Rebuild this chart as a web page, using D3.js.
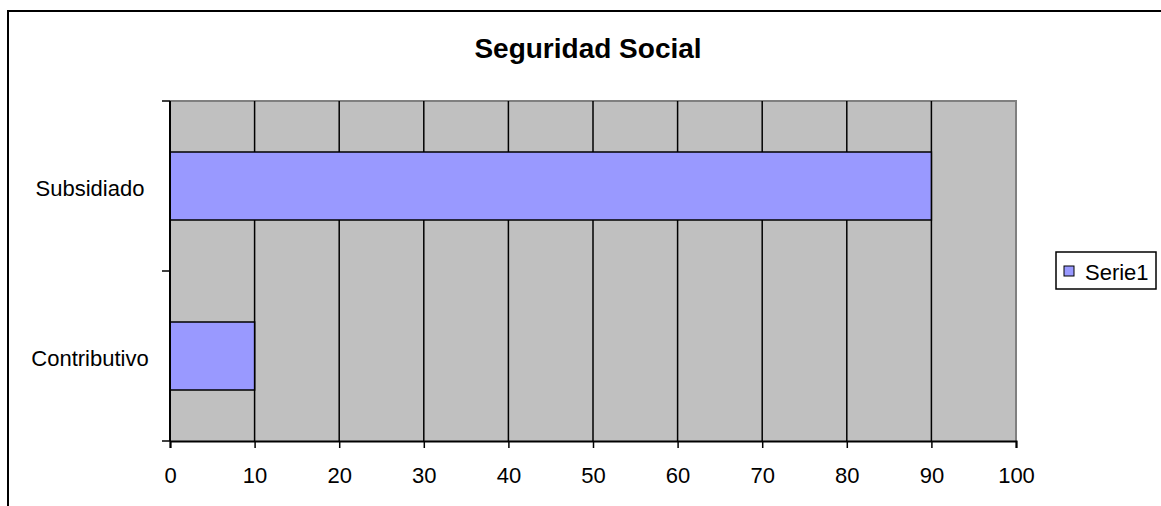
<!DOCTYPE html>
<html>
<head>
<meta charset="utf-8">
<script src="https://cdn.jsdelivr.net/npm/d3@7"></script>
<style>
  html, body { margin: 0; padding: 0; background: #ffffff; }
  svg { display: block; font-family: "Liberation Sans", Arial, sans-serif; }
</style>
</head>
<body>
<svg id="chart" width="1161" height="506"></svg>
<script>
// Chart data
const title = "Seguridad Social";
const categories = ["Subsidiado", "Contributivo"];
const values = [90, 10];
const seriesName = "Serie1";
const xTicks = [0, 10, 20, 30, 40, 50, 60, 70, 80, 90, 100];

const svg = d3.select("#chart");
const W = 1161, H = 506;

// Plot area
const plot = { left: 170, top: 101, right: 1016, bottom: 441 };

const x = d3.scaleLinear().domain([0, 100]).range([plot.left, plot.right]);
const y = d3.scaleBand()
  .domain(categories)
  .range([plot.top, plot.bottom])
  .paddingInner(0.6)
  .paddingOuter(0.3);

// Outer chart frame
svg.append("rect")
  .attr("x", 8).attr("y", 11)
  .attr("width", W).attr("height", H)
  .attr("fill", "#ffffff")
  .attr("stroke", "#000000")
  .attr("stroke-width", 2);

// Title
svg.append("text")
  .attr("x", 588).attr("y", 58)
  .attr("text-anchor", "middle")
  .attr("font-size", 28)
  .attr("font-weight", "bold")
  .attr("fill", "#000")
  .text(title);

// Plot background
svg.append("rect")
  .attr("x", plot.left).attr("y", plot.top)
  .attr("width", plot.right - plot.left)
  .attr("height", plot.bottom - plot.top)
  .attr("fill", "#c0c0c0");

// Top and right border of the plot area
svg.append("path")
  .attr("d", `M${plot.left},${plot.top}H${plot.right}V${plot.bottom}`)
  .attr("fill", "none")
  .attr("stroke", "#808080")
  .attr("stroke-width", 2);

// Vertical gridlines
svg.append("g")
  .selectAll("line")
  .data(xTicks.filter(t => t > 0 && t < 100))
  .join("line")
  .attr("x1", d => x(d)).attr("x2", d => x(d))
  .attr("y1", plot.top).attr("y2", plot.bottom)
  .attr("stroke", "#000")
  .attr("stroke-width", 1.5);

// Bars
svg.append("g")
  .selectAll("rect")
  .data(categories.map((c, i) => ({ c, v: values[i] })))
  .join("rect")
  .attr("x", x(0))
  .attr("y", d => y(d.c))
  .attr("width", d => x(d.v) - x(0))
  .attr("height", y.bandwidth())
  .attr("fill", "#9999ff")
  .attr("stroke", "#000")
  .attr("stroke-width", 1.5);

// X axis
const xAxis = d3.axisBottom(x)
  .tickValues(xTicks)
  .tickSize(7)
  .tickPadding(19)
  .tickFormat(d3.format("d"));
const gx = svg.append("g")
  .attr("transform", `translate(0,${plot.bottom})`)
  .call(xAxis);
gx.select(".domain").attr("stroke", "#000").attr("stroke-width", 2);
gx.selectAll(".tick line").attr("stroke", "#000").attr("stroke-width", 1.5);
gx.selectAll(".tick text")
  .attr("font-size", 22)
  .attr("font-family", "'Liberation Sans', Arial, sans-serif")
  .attr("fill", "#000");

// Y axis line and category boundary ticks
svg.append("line")
  .attr("x1", plot.left).attr("x2", plot.left)
  .attr("y1", plot.top).attr("y2", plot.bottom)
  .attr("stroke", "#000").attr("stroke-width", 2);

const boundaries = [plot.top].concat(categories.map(c => y(c) + y.bandwidth() + y.step() * y.paddingInner() / 2));
svg.append("g")
  .selectAll("line")
  .data(boundaries)
  .join("line")
  .attr("x1", plot.left - 8).attr("x2", plot.left)
  .attr("y1", d => d).attr("y2", d => d)
  .attr("stroke", "#000").attr("stroke-width", 1.5);

// Category labels
svg.append("g")
  .selectAll("text")
  .data(categories)
  .join("text")
  .attr("x", 90)
  .attr("y", d => y(d) + y.bandwidth() / 2 + 2)
  .attr("dy", "0.35em")
  .attr("text-anchor", "middle")
  .attr("font-size", 22)
  .attr("fill", "#000")
  .text(d => d);

// Legend
const legend = svg.append("g");
legend.append("rect")
  .attr("x", 1056).attr("y", 252)
  .attr("width", 100).attr("height", 37)
  .attr("fill", "#fff")
  .attr("stroke", "#000")
  .attr("stroke-width", 1.5);
legend.append("rect")
  .attr("x", 1064).attr("y", 266)
  .attr("width", 10).attr("height", 10)
  .attr("fill", "#9999ff")
  .attr("stroke", "#000")
  .attr("stroke-width", 1);
legend.append("text")
  .attr("x", 1085).attr("y", 280)
  .attr("font-size", 22)
  .attr("fill", "#000")
  .text(seriesName);
</script>
</body>
</html>
